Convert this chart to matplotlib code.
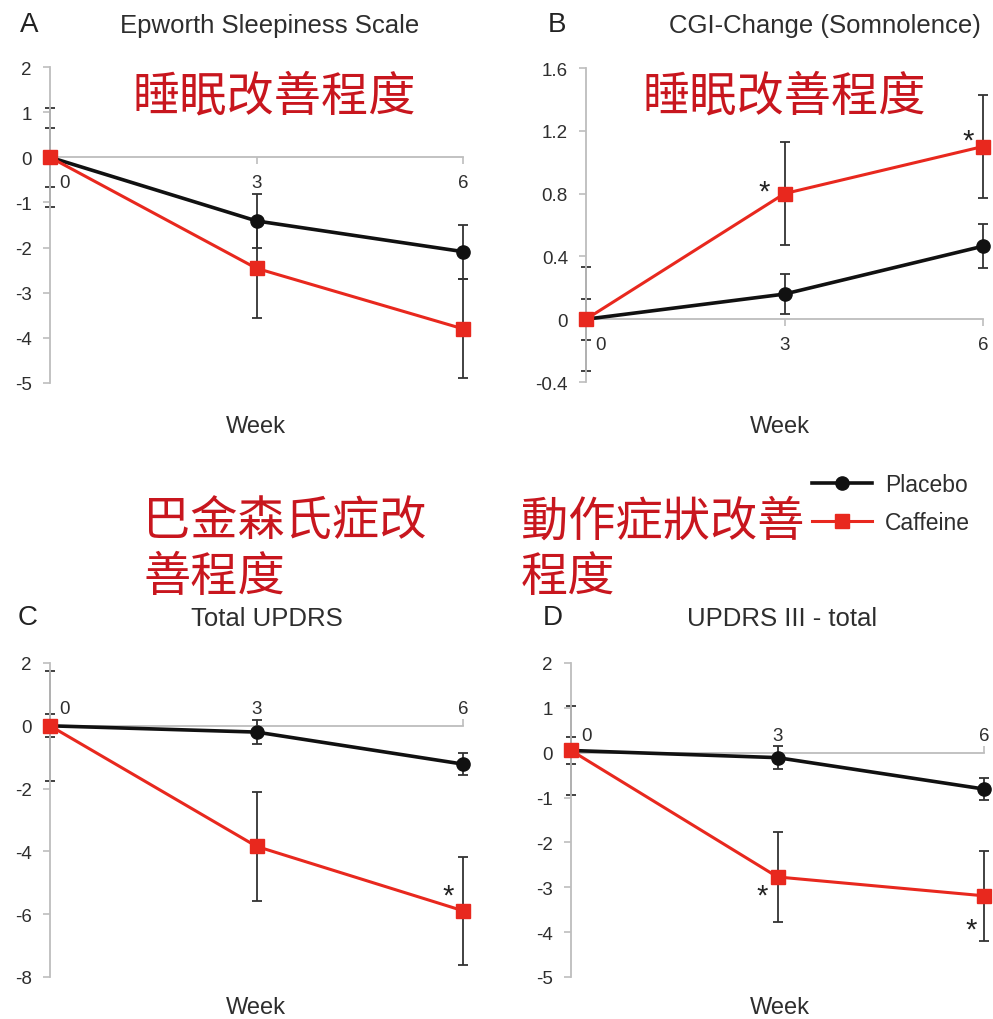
import matplotlib
matplotlib.use("Agg")
import matplotlib.pyplot as plt
import matplotlib.transforms as mtransforms

plt.rcParams['font.family'] = ['Liberation Sans', 'Noto Sans CJK TC', 'DejaVu Sans']

# ---------------- data ----------------
weeks = [0, 3, 6]
week_labels = ['0', '3', '6']
series_names = ['Placebo', 'Caffeine']

A_placebo = [0.0, -1.41, -2.09]
A_placebo_err = [0.65, 0.60, 0.60]
A_caffeine = [0.0, -2.46, -3.80]
A_caffeine_err = [1.10, 1.10, 1.10]
A_yticks = [2, 1, 0, -1, -2, -3, -4, -5]
A_ylabels = ['2', '1', '0', '-1', '-2', '-3', '-4', '-5']

B_placebo = [0.0, 0.16, 0.465]
B_placebo_err = [0.13, 0.13, 0.14]
B_caffeine = [0.0, 0.80, 1.10]
B_caffeine_err = [0.33, 0.33, 0.33]
B_yticks = [1.6, 1.2, 0.8, 0.4, 0, -0.4]
B_ylabels = ['1.6', '1.2', '0.8', '0.4', '0', '-0.4']

C_placebo = [0.0, -0.20, -1.22]
C_placebo_err = [0.37, 0.37, 0.36]
C_caffeine = [0.0, -3.84, -5.89]
C_caffeine_err = [1.75, 1.73, 1.72]
C_yticks = [2, 0, -2, -4, -6, -8]
C_ylabels = ['2', '0', '-2', '-4', '-6', '-8']

D_placebo = [0.05, -0.11, -0.81]
D_placebo_err = [0.30, 0.26, 0.25]
D_caffeine = [0.05, -2.77, -3.19]
D_caffeine_err = [1.00, 1.00, 1.00]
D_yticks = [2, 1, 0, -1, -2, -3, -4, -5]
D_ylabels = ['2', '1', '0', '-1', '-2', '-3', '-4', '-5']

letters = ['A', 'B', 'C', 'D']
titles = ['Epworth Sleepiness Scale', 'CGI-Change (Somnolence)', 'Total UPDRS', 'UPDRS III - total']
xlabel = 'Week'
notes = [['睡眠改善程度'], ['睡眠改善程度'], ['巴金森氏症改', '善程度'], ['動作症狀改善', '程度']]

# ---------------- style ----------------
W, H = 993, 1020
DPI = 100
BLACK = '#111111'
RED = '#e8281e'
GRAY = '#bdbdbd'
TXT = '#2e2e2e'
NOTE = '#c8161e'

fig = plt.figure(figsize=(W / DPI, H / DPI), dpi=DPI)


def fx(px):
    return px / W


def fy(py):
    return 1 - py / H


def make_ax(x0, x1, ytop, ybot):
    return fig.add_axes([fx(x0), fy(ybot), fx(x1 - x0), (ybot - ytop) / H])


axA = make_ax(50, 463, 68, 384)
axB = make_ax(586, 983, 69, 383)
axC = make_ax(50, 463, 664, 978)
axD = make_ax(571, 984, 664, 978)

panels = [
    (axA, A_placebo, A_placebo_err, A_caffeine, A_caffeine_err, A_yticks, A_ylabels, 'below'),
    (axB, B_placebo, B_placebo_err, B_caffeine, B_caffeine_err, B_yticks, B_ylabels, 'below'),
    (axC, C_placebo, C_placebo_err, C_caffeine, C_caffeine_err, C_yticks, C_ylabels, 'above'),
    (axD, D_placebo, D_placebo_err, D_caffeine, D_caffeine_err, D_yticks, D_ylabels, 'above'),
]

handles = []
for i, (ax, pv, pe, cv, ce, yt, yl, pos) in enumerate(panels):
    ax.set_facecolor('none')
    ax.errorbar(weeks, pv, yerr=pe, fmt='none', ecolor='#333333', elinewidth=1.3,
                capsize=3.5, capthick=1.3, zorder=2, clip_on=False)
    ax.errorbar(weeks, cv, yerr=ce, fmt='none', ecolor='#333333', elinewidth=1.3,
                capsize=3.5, capthick=1.3, zorder=2, clip_on=False)
    lp, = ax.plot(weeks, pv, color=BLACK, lw=2.6, marker='o', ms=9.5,
                  zorder=3, clip_on=False, label=series_names[0])
    lc, = ax.plot(weeks, cv, color=RED, lw=2.2, marker='s', ms=10,
                  zorder=4, clip_on=False, label=series_names[1])
    if i == 0:
        handles = [lp, lc]
    ax.set_xlim(0, 6)
    ax.set_ylim(min(yt), max(yt))
    ax.set_yticks(yt)
    ax.set_yticklabels(yl)
    ax.set_xticks(weeks)
    ax.set_xticklabels(week_labels)
    ax.spines['right'].set_visible(False)
    ax.spines['left'].set_color(GRAY)
    ax.spines['left'].set_linewidth(1.3)
    if pos == 'below':
        ax.spines['top'].set_visible(False)
        ax.spines['bottom'].set_position(('data', 0))
        ax.spines['bottom'].set_color(GRAY)
        ax.spines['bottom'].set_linewidth(1.3)
        ax.xaxis.set_ticks_position('bottom')
        ax.tick_params(axis='x', direction='out', length=5, width=1.2, color=GRAY,
                       labelsize=13.5, labelcolor=TXT, pad=7)
    else:
        ax.spines['bottom'].set_visible(False)
        ax.spines['top'].set_position(('data', 0))
        ax.spines['top'].set_color(GRAY)
        ax.spines['top'].set_linewidth(1.3)
        ax.xaxis.set_ticks_position('top')
        ax.tick_params(axis='x', direction='out', length=5, width=1.2, color=GRAY,
                       labelsize=13.5, labelcolor=TXT, pad=1)
    ax.tick_params(axis='y', direction='out', length=5, width=1.2, color=GRAY,
                   labelsize=13.5, labelcolor=TXT, pad=8)
    # shift the first x tick label to the right of the y axis
    offset = mtransforms.ScaledTranslation(15 / DPI, 0, fig.dpi_scale_trans)
    lbls = ax.get_xticklabels()
    lbls[0].set_transform(lbls[0].get_transform() + offset)


# significance asterisks
def star(ax, x, y, dx, dy):
    ax.annotate('*', xy=(x, y), xytext=(dx * 0.72, dy * 0.72), textcoords='offset points',
                ha='center', va='center', fontsize=21, color='#222222', zorder=6,
                annotation_clip=False)


star(axB, weeks[1], B_caffeine[1], -20, 2)
star(axB, weeks[2], B_caffeine[2], -15, 6)
star(axC, weeks[2], C_caffeine[2], -15, 15)
star(axD, weeks[1], D_caffeine[1], -15, -19)
star(axD, weeks[2], D_caffeine[2], -13, -34)

# panel letters and titles
letter_pos = [(20, 32), (548, 32), (18, 625), (543, 625)]
title_pos = [(270, 33), (825, 33), (267, 626), (782, 626)]
for L, (lx, ly), t, (tx, ty) in zip(letters, letter_pos, titles, title_pos):
    fig.text(fx(lx), fy(ly), L, fontsize=20, color='#222222', ha='left', va='baseline')
    fig.text(fx(tx), fy(ty), t, fontsize=18.5, color=TXT, ha='center', va='baseline')

# week labels
week_pos = [(256, 433), (780, 433), (256, 1014), (780, 1014)]
for (wx, wy) in week_pos:
    fig.text(fx(wx), fy(wy), xlabel, fontsize=17, color=TXT, ha='center', va='baseline')

# red notes
note_pos = [[(132, 97)], [(643, 97)], [(143, 522), (143, 578)], [(521, 522), (521, 578)]]
for lines, poss in zip(notes, note_pos):
    for s, (nx, ny) in zip(lines, poss):
        fig.text(fx(nx), fy(ny), s, fontsize=34, color=NOTE, ha='left', va='center',
                 family=['Noto Sans CJK TC'])

# legend
fig.legend(handles=handles, labels=series_names, loc='upper left',
           bbox_to_anchor=(fx(812), fy(474)), frameon=False, fontsize=16.5,
           handlelength=2.6, handletextpad=0.6, labelspacing=0.65, borderpad=0,
           borderaxespad=0, labelcolor=TXT)

fig.savefig('out.png', dpi=DPI)
